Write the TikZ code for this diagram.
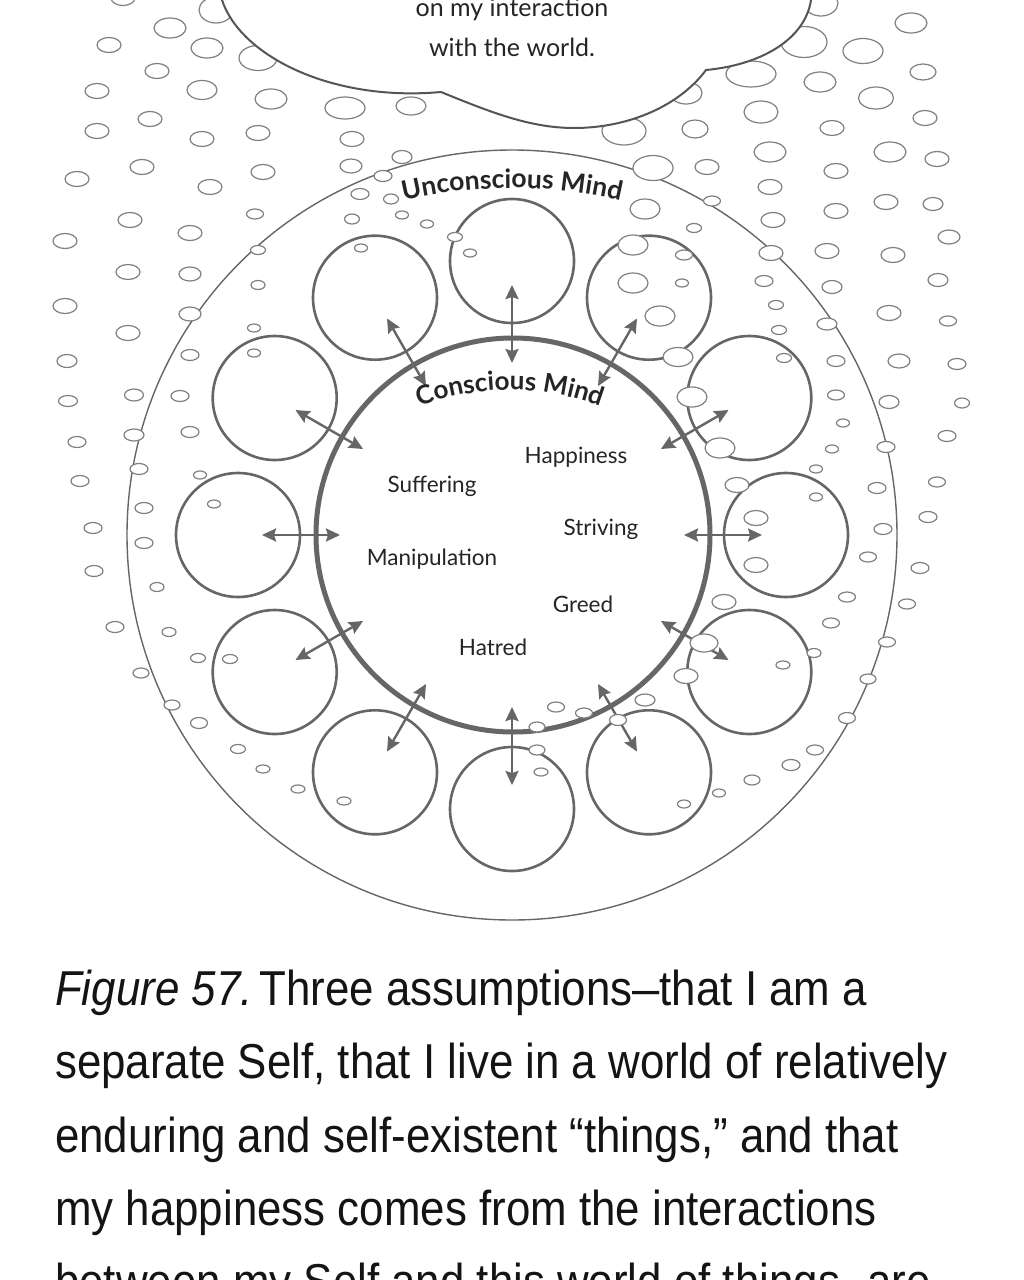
\documentclass[tikz,border=0pt]{standalone}
\usepackage{fontspec}
\setmainfont{Lato}
\newfontfamily\capfont[FakeStretch=0.895]{Liberation Sans}
\usetikzlibrary{arrows.meta,decorations.text}
\definecolor{ln}{HTML}{666666}
\definecolor{bl}{HTML}{808080}
\definecolor{tx}{HTML}{252525}
\definecolor{cl}{HTML}{555555}
\newcommand\mindfont{\fontsize{26.5}{30}\selectfont\bfseries\color{tx}}
\newcommand\cmindfont{\fontsize{26}{30}\selectfont\bfseries\color{tx}}
\newcommand\capdash{\scalebox{0.62}[1]{—}}
\begin{document}
\begin{tikzpicture}[x=1pt,y=-1pt,
  bub/.style={draw=bl,line width=1.2pt,fill=white},
  smallc/.style={draw=ln,line width=2.6pt,circle,minimum size=124pt,inner sep=0pt},
  arr/.style={draw=ln,line width=2.4pt,{Stealth[length=14pt,width=13pt,inset=2pt]}-{Stealth[length=14pt,width=13pt,inset=2pt]}},
  word/.style={anchor=base,inner sep=0pt,text=tx,font=\fontsize{22.5}{26}\selectfont},
  cloudtxt/.style={anchor=base,inner sep=0pt,text=tx,font=\fontsize{25}{29}\selectfont},
  capline/.style={anchor=base west,inner sep=0pt,text=black!92,font=\capfont\fontsize{49}{58}\selectfont},
  cloudshape/.style={draw=cl,line width=2pt,fill=white}]
\clip (0,0) rectangle (1024,1280);
\fill[white] (0,0) rectangle (1024,1280);

% unconscious and conscious mind
\node[draw=ln,line width=1.4pt,circle,minimum size=770pt,inner sep=0pt] (outer) at (512,535) {};
\node[draw=ln,line width=5pt,circle,minimum size=394pt,inner sep=0pt] (inner) at (513,535) {};

% twelve circles with arrows
\foreach \i in {0,...,11}{
  \pgfmathsetmacro\a{30*\i}
  \node[smallc] (s\i) at ({512+274*sin(\a)},{535-274*cos(\a)}) {};
  \coordinate (p\i) at ({512+250*sin(\a)},{535-250*cos(\a)});
  \coordinate (q\i) at ({512+172*sin(\a)},{535-172*cos(\a)});
  \draw[arr] (p\i) -- (q\i);
}

% bubbles
\foreach \x/\y/\rx/\ry in {
123/-2/12/7.5, 170/28/16/10, 109/45/12/7.5, 207/48/16/10, 157/71/12/7.5,
97/91/12/7.5, 202/90/15/9.5, 271/99/16/10, 150/119/12/7.5, 97/131/12/7.5,
202/139/12/7.5, 258/133/12/7.5, 352/139/12/7.5, 142/167/12/7.5, 77/179/12/7.5,
210/187/12/7.5, 263/172/12/7.5, 351/166/11/7, 130/220/12/7.5, 255/214/8.5/5,
65/241/12/7.5, 190/233/12/7.5, 402/157/10/6.5, 383/176/9/5.5, 360/194/9/5.5,
391/199/7.5/5, 352/219/7.5/5, 402/215/6.5/4, 427/224/6.5/4, 361/248/6.5/4,
455/237/7.5/4.5, 470/253/6.5/4,
911/23/16/10, 863/51/20/12.5, 923/72/13/8, 820/82/16/10, 876/98/17.5/11,
761/112/17/11, 925/118/12/7.5, 832/128/12/7.5, 695/129/13/9, 770/152/16/10,
890/152/16/10, 937/159/12/7.5, 653/168/20/12.5, 707/167/12/7.5, 836/171/12/7.5,
770/187/12/7.5, 712/201/8.5/5, 645/209/15/10, 836/211/12/7.5, 886/202/12/7.5,
933/204/10/6.5, 773/220/12/7.5, 694/228/7.5/4.5, 949/237/11/7,
633/245/15/10, 633/283/15/10, 660/316/15/10, 684/255/8.5/5, 682/283/6.5/4,
771/253/12/7.5, 827/251/12/7.5, 893/255/12/7.5, 938/280/10/6.5, 764/281/9/5.5,
832/287/10/6.5, 776/305/7.5/4.5, 889/313/12/7.5, 948/321/8.5/5, 827/324/10/6,
779/330/7.5/4.5, 899/361/11/7, 957/364/9/5.5, 836/361/9/5.5, 784/358/7.5/4.5,
678/357/15/9.5, 692/397/15/10, 889/402/10/6.5, 962/403/7.5/5, 836/395/8.5/5,
843/423/6.5/4, 947/436/9/5.5, 720/448/15/10, 886/447/9/5.5, 832/449/6.5/4,
816/469/6.5/4, 937/482/8.5/5, 737/485/12/7.5, 877/488/9/5.5, 816/497/6.5/4,
928/517/9/5.5, 756/518/12/7.5, 883/529/9/5.5, 868/557/8.5/5, 756/565/12/7.5,
920/568/9/5.5, 724/602/12/7.5, 847/597/8.5/5, 907/604/8.5/5, 831/623/8.5/5,
887/642/8.5/5, 704/643/14/9,
258/250/7.5/4.5, 128/272/12/7.5, 190/274/11/7, 258/285/7/4.5, 65/306/12/7.5,
190/314/11/7, 128/333/12/7.5, 254/328/6.5/4, 254/353/6.5/4, 67/361/10/6.5,
190/355/9/5.5, 68/401/9.5/5.5, 134/395/9.5/6, 180/396/9/5.5, 77/442/9/5.5,
134/435/10/6, 190/432/9/5.5, 80/481/9/5.5, 139/469/9/5.5, 200/475/6.5/4,
214/504/6.5/4, 93/528/9/5.5, 144/508/9/5.5, 144/543/9/5.5, 94/571/9/5.5,
157/587/7/4.5, 115/627/9/5.5, 169/632/7/4.5,
198/658/7.5/4.5, 230/659/7.5/4.5, 141/673/8/5, 172/705/8/5, 199/723/8.5/5.5,
238/749/7.5/4.5, 263/769/7/4, 298/789/7/4, 344/801/7/4,
814/653/7/4.5, 783/665/7/4, 686/676/12/7.5, 868/679/8/5, 645/700/10/6,
556/707/8.5/5, 584/713/8.5/5, 618/720/8.5/5.5, 847/718/8.5/5.5, 537/727/8/5,
815/750/8.5/5, 537/750/8/5, 791/765/9/5.5, 541/772/7/4, 752/780/8/5,
719/793/6.5/4, 684/804/6.5/4}
  \draw[bub] (\x,\y) ellipse [x radius=\rx, y radius=\ry];

% curved labels
\path[decorate,decoration={text along path,text={|\mindfont|Unconscious Mind},text align=center}]
  (512,668) ++(248:480) arc[start angle=248,end angle=292,radius=480];
\path[decorate,decoration={text along path,text={|\cmindfont|Conscious Mind},text align=center}]
  (510,648) ++(240:258) arc[start angle=240,end angle=300,radius=258];

% words in the conscious mind
\node[word] (w1) at (576,463) {Happiness};
\node[word] (w2) at (432,492) {Suffering};
\node[word] (w3) at (601,535) {Striving};
\node[word] (w4) at (432,565) {Manipulation};
\node[word] (w5) at (583,612) {Greed};
\node[word] (w6) at (493,655) {Hatred};

% bubbles behind the cloud
\foreach \x/\y/\rx/\ry in {
216/10/17/13, 258/58/19/12.5, 345/108/20/11, 411/106/15/9, 624/131/22/14,
686/93/16/11, 751/74/25/13, 804/42/23/15.5, 821/3/17/13}
  \draw[bub] (\x,\y) ellipse [x radius=\rx, y radius=\ry];

% cloud
\draw[cloudshape] (222,-20) -- (222,0) .. controls (240,55) and (330,102) .. (441,92)
  .. controls (490,112) and (530,128) .. (574,128)
  .. controls (630,128) and (680,105) .. (706,70)
  .. controls (760,65) and (805,40) .. (811,0) -- (811,-20) -- cycle;
\node[cloudtxt] (t1) at (512,16) {on my interaction};
\node[cloudtxt] (t2) at (512,56) {with the world.};

% caption
\node[capline] (c1) at (55,1005) {\textit{Figure 57.}\hspace{7pt}Three assumptions\capdash that I am a};
\node[capline] (c2) at (55,1078) {separate Self, that I live in a world of relatively};
\node[capline] (c3) at (55,1152) {enduring and self-existent “things,” and that};
\node[capline] (c4) at (55,1225) {my happiness comes from the interactions};
\node[capline] (c5) at (55,1298) {between my Self and this world of things\capdash are};
\end{tikzpicture}
\end{document}
